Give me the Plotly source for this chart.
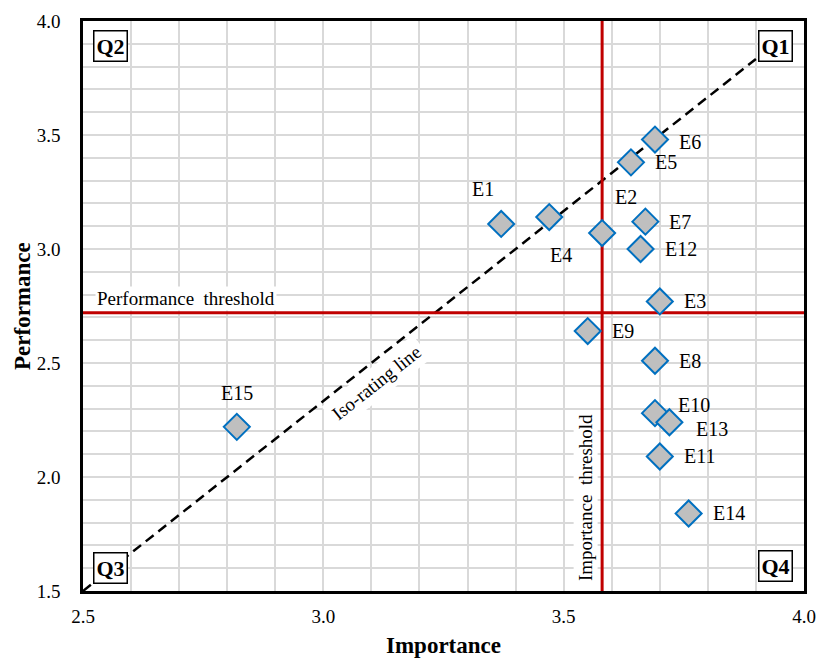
import plotly.graph_objects as go

# ---- data ----
names = ["E1", "E2", "E3", "E4", "E5", "E6", "E7", "E8", "E9", "E10",
         "E11", "E12", "E13", "E14", "E15"]
importance = [3.37, 3.58, 3.70, 3.47, 3.64, 3.69, 3.67, 3.69, 3.55, 3.69,
              3.70, 3.66, 3.72, 3.76, 2.82]
performance = [3.11, 3.07, 2.77, 3.14, 3.38, 3.48, 3.12, 2.51, 2.64, 2.28,
               2.09, 3.00, 2.24, 1.84, 2.22]
importance_threshold = 3.58
performance_threshold = 2.72
x_range = [2.5, 4.0]
y_range = [1.5, 4.0]
iso_x = [2.5, 3.9]
iso_y = [1.5, 1.5 + (3.9 - 2.5) * (4.0 - 1.5) / (4.0 - 2.5)]
tick_vals_x = [2.5, 3.0, 3.5, 4.0]
tick_vals_y = [1.5, 2.0, 2.5, 3.0, 3.5, 4.0]

# ---- label placement (style) ----
label_pos = {
    "E1": ("center", -18, 35), "E2": ("center", 24, 36), "E4": ("center", 12, -38),
    "E15": ("center", 0, 34), "E10": ("left", 21, 8), "E13": ("left", 25, -7),
    "E6": ("left", 22, -2),
}

SERIF = "Liberation Serif"
RED = "#C00000"

fig = go.Figure()

fig.add_trace(go.Scatter(x=iso_x, y=iso_y, mode="lines",
                         line=dict(color="black", width=2.5, dash="10px,6px"),
                         hoverinfo="skip", showlegend=False))
fig.add_trace(go.Scatter(x=[importance_threshold, importance_threshold], y=y_range,
                         mode="lines", line=dict(color=RED, width=3),
                         hoverinfo="skip", showlegend=False))
fig.add_trace(go.Scatter(x=x_range, y=[performance_threshold, performance_threshold],
                         mode="lines", line=dict(color=RED, width=3),
                         hoverinfo="skip", showlegend=False))
fig.add_trace(go.Scatter(x=importance, y=performance, mode="markers", text=names,
                         marker=dict(symbol="diamond", size=20, color="#BFBFBF",
                                     line=dict(color="#0070C0", width=2)),
                         showlegend=False))

annotations = []
for n, xv, yv in zip(names, importance, performance):
    anchor, xs, ys = label_pos.get(n, ("left", 22, 0))
    annotations.append(dict(x=xv, y=yv, xref="x", yref="y", text=n, showarrow=False,
                            xanchor=anchor, yanchor="middle", xshift=xs, yshift=ys,
                            font=dict(family=SERIF, size=20, color="black")))

# quadrant boxes
qbox = dict(showarrow=False, xref="paper", yref="paper", bgcolor="white",
            bordercolor="black", borderwidth=1.5, borderpad=2,
            font=dict(family=SERIF, size=22, color="black"))
annotations += [
    dict(text="<b>Q2</b>", x=0, y=1, xanchor="left", yanchor="top", xshift=10, yshift=-9, **qbox),
    dict(text="<b>Q1</b>", x=1, y=1, xanchor="right", yanchor="top", xshift=-11, yshift=-9, **qbox),
    dict(text="<b>Q3</b>", x=0, y=0, xanchor="left", yanchor="bottom", xshift=10, yshift=7, **qbox),
    dict(text="<b>Q4</b>", x=1, y=0, xanchor="right", yanchor="bottom", xshift=-11, yshift=9, **qbox),
]

# threshold and iso labels
annotations += [
    dict(text="Performance  threshold", x=0, xref="paper", y=performance_threshold, yref="y",
         xanchor="left", yanchor="bottom", xshift=12, yshift=2, showarrow=False,
         bgcolor="white", font=dict(family=SERIF, size=19, color="black")),
    dict(text="Importance  threshold", x=importance_threshold, xref="x", y=0, yref="paper",
         xanchor="right", yanchor="bottom", xshift=-4, yshift=8, textangle=-90, showarrow=False,
         bgcolor="white", font=dict(family=SERIF, size=19, color="black")),
    dict(text="Iso-rating line", x=3.111, y=2.414, xref="x", yref="y", textangle=-38.3,
         showarrow=False, bgcolor="white", borderpad=4,
         font=dict(family=SERIF, size=19, color="black")),
    dict(text="<b>Importance</b>", x=0.5, y=0, xref="paper", yref="paper", xanchor="center",
         yanchor="middle", yshift=-54, showarrow=False,
         font=dict(family=SERIF, size=23, color="black")),
    dict(text="<b>Performance</b>", x=0, y=0.5, xref="paper", yref="paper", xanchor="center",
         yanchor="middle", xshift=-61, textangle=-90, showarrow=False,
         font=dict(family=SERIF, size=23, color="black")),
]

axis_common = dict(showline=True, linecolor="black", linewidth=2.5, mirror=True,
                   showgrid=True, gridcolor="#D9D9D9", gridwidth=1.5, zeroline=False,
                   ticks="", tickfont=dict(family=SERIF, size=19, color="black"),
                   tickformat=".1f", automargin=False)

fig.update_xaxes(range=x_range, tickvals=tick_vals_x, ticklabelstandoff=6,
                 minor=dict(dtick=0.1, showgrid=True, gridcolor="#D9D9D9", gridwidth=1.5),
                 **axis_common)
fig.update_yaxes(range=y_range, tickvals=tick_vals_y, ticklabelstandoff=16,
                 minor=dict(dtick=0.1, showgrid=True, gridcolor="#D9D9D9", gridwidth=1.5),
                 **axis_common)

fig.update_layout(width=819, height=659, margin=dict(l=83, r=15, t=21, b=68),
                  plot_bgcolor="white", paper_bgcolor="white",
                  annotations=annotations, showlegend=False)

fig.write_html("out.html", config={"displayModeBar": False},
               post_script="document.body.style.margin='0';document.body.style.overflow='hidden';")
